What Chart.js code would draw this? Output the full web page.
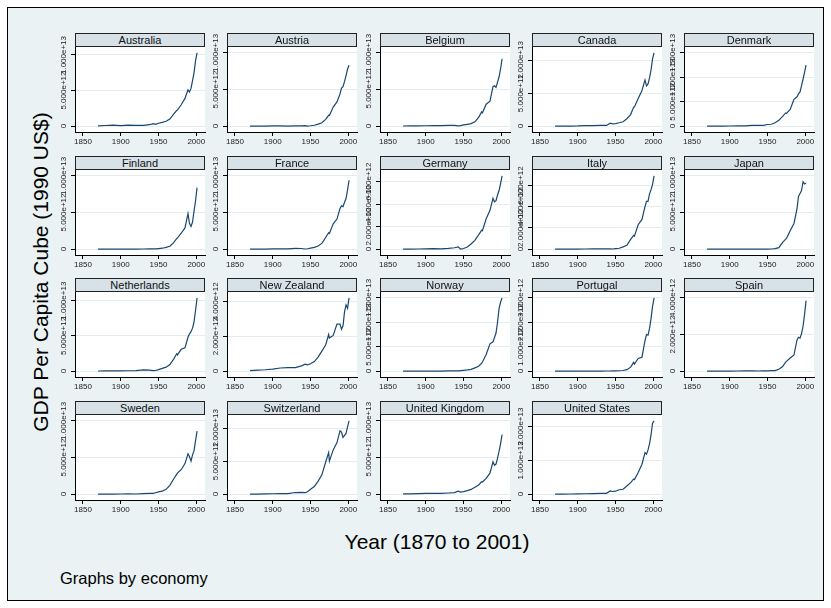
<!DOCTYPE html>
<html lang="en">
<head>
<meta charset="UTF-8">
<title>GDP Per Capita Cube by economy</title>
<script src="https://cdn.jsdelivr.net/npm/chart.js"></script>
<style>
  body { margin: 0; width: 831px; height: 608px; background: #fff; position: relative; overflow: hidden;
         font-family: "Liberation Sans", Arial, Helvetica, sans-serif; }
  #frame { position: absolute; left: 7px; top: 7px; width: 815px; height: 592px; border: 1px solid #000; background: #eaf2f3; }
  .strip { position: absolute; box-sizing: border-box; height: 14px; width: 130px; border: 1px solid #222;
           background: #d7e2e8; font-size: 11px; line-height: 12px; text-align: center; color: #111; z-index: 2; }
  .panel { position: absolute; z-index: 1; }
  .lbl { position: absolute; white-space: nowrap; color: #000; line-height: 1; }
</style>
</head>
<body>
<div id="frame"></div>
<div class="lbl" style="left:40px; top:272px; font-size:21px; transform: translate(-50%,-50%) rotate(-90deg);">GDP Per Capita Cube (1990 US$)</div>
<div class="lbl" style="left:437px; top:541px; font-size:21px; transform: translate(-50%,-50%);">Year (1870 to 2001)</div>
<div class="lbl" style="left:60px; top:578px; font-size:16.5px; transform: translate(0,-50%);">Graphs by economy</div>

<script>
// values are in units of 1e12 (1990 US$ cubed)
const years = [1870, 1880, 1890, 1900, 1910, 1920, 1930, 1938, 1943, 1946, 1950, 1955, 1960,
               1965, 1970, 1974, 1975, 1980, 1985, 1989, 1991, 1993, 1995, 1997, 1999, 2001];

const australia   = [0.04, 0.09, 0.14, 0.07, 0.14, 0.10, 0.10, 0.20, 0.36, 0.25, 0.41, 0.53, 0.68, 1.0, 1.7, 2.2, 2.25, 3.0, 3.9, 5.1, 4.8, 5.3, 6.4, 7.5, 9.2, 10.3];
const austria     = [0.007, 0.008, 0.014, 0.024, 0.036, 0.014, 0.047, 0.045, 0.064, 0.007, 0.051, 0.125, 0.28, 0.46, 0.93, 1.48, 1.44, 2.6, 3.3, 4.4, 5.2, 5.4, 6.1, 6.9, 7.8, 8.3];
const belgium     = [0.02, 0.027, 0.039, 0.052, 0.064, 0.059, 0.097, 0.091, 0.047, 0.08, 0.163, 0.25, 0.34, 0.59, 1.2, 1.95, 1.82, 3.0, 3.4, 5.4, 5.5, 5.3, 6.0, 6.7, 7.8, 9.2];
const canada      = [0.005, 0.006, 0.014, 0.025, 0.069, 0.064, 0.11, 0.11, 0.44, 0.34, 0.39, 0.51, 0.67, 1.12, 1.75, 2.9, 2.9, 4.2, 5.4, 7.0, 6.1, 6.4, 7.3, 8.5, 10.2, 11.1];
const denmark     = [0.008, 0.011, 0.016, 0.027, 0.051, 0.064, 0.15, 0.185, 0.157, 0.205, 0.335, 0.39, 0.68, 1.19, 2.0, 2.7, 2.6, 3.4, 5.5, 6.0, 6.6, 7.0, 8.3, 9.6, 11.0, 12.5];
const finland     = [0.0015, 0.0022, 0.0027, 0.0046, 0.0069, 0.0058, 0.019, 0.043, 0.047, 0.043, 0.077, 0.125, 0.24, 0.4, 0.88, 1.44, 1.52, 2.17, 2.9, 4.85, 3.5, 3.1, 3.7, 5.2, 6.6, 8.4];
const france      = [0.0066, 0.0093, 0.0138, 0.024, 0.027, 0.033, 0.091, 0.085, 0.02, 0.051, 0.146, 0.24, 0.43, 0.78, 1.59, 2.25, 2.15, 3.45, 4.1, 5.55, 5.9, 5.8, 6.4, 6.9, 8.1, 9.4];
const germany     = [0.0062, 0.008, 0.0138, 0.027, 0.038, 0.022, 0.063, 0.125, 0.2, 0.011, 0.058, 0.195, 0.46, 0.78, 1.27, 1.69, 1.64, 2.69, 3.44, 4.5, 4.2, 4.3, 4.8, 5.2, 5.8, 6.5];
const italy       = [0.0034, 0.0041, 0.0049, 0.0057, 0.012, 0.0176, 0.024, 0.036, 0.03, 0.014, 0.043, 0.085, 0.21, 0.36, 0.92, 1.3, 1.23, 2.3, 2.8, 4.0, 4.5, 4.5, 5.2, 5.6, 6.1, 6.9];
const japan       = [0.0004, 0.0006, 0.001, 0.0016, 0.0022, 0.0049, 0.0063, 0.0147, 0.022, 0.0027, 0.0071, 0.022, 0.063, 0.205, 0.92, 1.37, 1.44, 2.5, 3.5, 5.5, 7.2, 7.6, 8.0, 9.2, 8.9, 9.0];
const netherlands = [0.021, 0.027, 0.036, 0.04, 0.055, 0.074, 0.176, 0.145, 0.08, 0.091, 0.216, 0.39, 0.57, 0.94, 1.71, 2.46, 2.3, 3.1, 3.3, 4.8, 5.3, 5.6, 6.1, 7.0, 8.6, 10.4];
const newZealand  = [0.03, 0.06, 0.08, 0.12, 0.18, 0.2, 0.2, 0.3, 0.4, 0.36, 0.42, 0.55, 0.8, 1.15, 1.5, 2.1, 1.9, 2.05, 2.7, 2.7, 2.4, 2.6, 3.4, 3.8, 3.6, 4.2];
const norway      = [0.0025, 0.0034, 0.0049, 0.0066, 0.0093, 0.022, 0.051, 0.08, 0.047, 0.097, 0.163, 0.25, 0.37, 0.66, 1.01, 1.64, 1.86, 3.4, 5.6, 6.0, 6.9, 7.8, 10.0, 12.8, 14.1, 15.0];
const portugal    = [0.0009, 0.001, 0.0013, 0.0022, 0.0022, 0.0017, 0.0041, 0.0049, 0.0049, 0.0069, 0.0091, 0.0156, 0.026, 0.059, 0.164, 0.36, 0.29, 0.52, 0.57, 1.25, 1.5, 1.47, 1.75, 2.15, 2.65, 3.0];
const spain       = [0.0026, 0.0041, 0.0049, 0.0057, 0.0069, 0.0106, 0.0176, 0.008, 0.0106, 0.0106, 0.0138, 0.024, 0.029, 0.104, 0.25, 0.49, 0.53, 0.72, 0.88, 1.7, 1.85, 1.8, 2.05, 2.45, 3.1, 3.85];
const sweden      = [0.0046, 0.0058, 0.008, 0.0168, 0.0265, 0.022, 0.059, 0.091, 0.11, 0.195, 0.31, 0.4, 0.66, 1.19, 2.06, 2.7, 2.86, 3.33, 4.17, 5.5, 5.1, 4.5, 5.36, 5.93, 7.3, 8.6];
const switzerland = [0.0093, 0.0147, 0.032, 0.056, 0.081, 0.08, 0.244, 0.26, 0.216, 0.373, 0.75, 1.16, 1.93, 2.92, 4.83, 6.3, 5.0, 6.7, 7.8, 9.6, 9.4, 8.6, 8.9, 9.2, 10.2, 11.1];
const unitedKingdom = [0.032, 0.043, 0.064, 0.091, 0.097, 0.091, 0.157, 0.205, 0.40, 0.275, 0.334, 0.475, 0.646, 0.93, 1.25, 1.69, 1.66, 2.16, 2.86, 4.41, 3.94, 4.1, 4.91, 5.83, 6.86, 8.12];
const unitedStates  = [0.0146, 0.033, 0.039, 0.068, 0.122, 0.171, 0.24, 0.23, 0.95, 0.78, 0.874, 1.3, 1.45, 2.41, 3.4, 4.49, 4.33, 6.41, 8.87, 12.3, 11.85, 13.1, 14.9, 17.6, 21.0, 21.7];

const countries = ['Australia', 'Austria', 'Belgium', 'Canada', 'Denmark',
                   'Finland', 'France', 'Germany', 'Italy', 'Japan',
                   'Netherlands', 'New Zealand', 'Norway', 'Portugal', 'Spain',
                   'Sweden', 'Switzerland', 'United Kingdom', 'United States'];
const seriesList = [australia, austria, belgium, canada, denmark,
                    finland, france, germany, italy, japan,
                    netherlands, newZealand, norway, portugal, spain,
                    sweden, switzerland, unitedKingdom, unitedStates];

// y axis tick step and top tick, same units
const yStep    = [5, 5, 5, 5, 5,  5, 5, 2, 2, 5,  5, 2, 5, 1, 2,  5, 5, 5, 10];
const yTopTick = [10, 10, 10, 10, 15,  10, 10, 6, 6, 10,  10, 4, 15, 3, 4,  10, 10, 10, 20];
const xTicks = [1850, 1900, 1950, 2000];
const UNIT = 1e12;

const FONT = '"Liberation Sans", Arial, Helvetica, sans-serif';

// white plot region behind the line
const plotBg = {
  id: 'plotBg',
  beforeDraw(chart) {
    const a = chart.chartArea, ctx = chart.ctx;
    ctx.save();
    ctx.fillStyle = '#fff';
    ctx.fillRect(a.left, a.top, a.right - a.left, a.bottom - a.top);
    ctx.restore();
  }
};

// Stata style vertical tick labels (they overlap, as in the original)
const yLabels = {
  id: 'yLabels',
  afterDraw(chart) {
    const ctx = chart.ctx, ys = chart.scales.y, a = chart.chartArea;
    ctx.save();
    ctx.font = '8px ' + FONT;
    ctx.fillStyle = '#222';
    ctx.textAlign = 'center';
    ctx.textBaseline = 'middle';
    ys.ticks.forEach(t => {
      const py = ys.getPixelForValue(t.value);
      ctx.save();
      ctx.translate(a.left - 11, py);
      ctx.rotate(-Math.PI / 2);
      ctx.fillText(t.value === 0 ? '0' : t.value.toExponential(3), 0, 0);
      ctx.restore();
    });
    ctx.restore();
  }
};

const TOP_PAD = 24; // room above the plot for the tall tick labels

countries.forEach((name, i) => {
  const col = i % 5, row = Math.floor(i / 5);
  const left = Math.round(75 + col * 152.25);
  const top = Math.round(33 + row * 122.7);

  const cv = document.createElement('canvas');
  cv.className = 'panel';
  cv.width = 170; cv.height = 103 + TOP_PAD;
  cv.style.left = (left - 30) + 'px';
  cv.style.top = (top + 14 - TOP_PAD) + 'px';
  document.body.appendChild(cv);

  const strip = document.createElement('div');
  strip.className = 'strip';
  strip.style.left = left + 'px';
  strip.style.top = top + 'px';
  strip.textContent = name;
  document.body.appendChild(strip);

  const vals = seriesList[i];
  const step = yStep[i] * UNIT;
  const topTick = yTopTick[i] * UNIT;
  const range = Math.max(topTick, Math.max(...vals) * UNIT);
  const tickVals = [];
  for (let v = 0; v <= topTick + 1; v += step) tickVals.push(v);

  new Chart(cv, {
    type: 'line',
    data: {
      datasets: [{
        data: years.map((y, k) => ({ x: y, y: vals[k] * UNIT })),
        borderColor: '#1a476f',
        borderWidth: 1.2,
        pointRadius: 0,
        tension: 0
      }]
    },
    options: {
      responsive: false,
      animation: false,
      devicePixelRatio: 1,
      layout: { padding: { top: TOP_PAD, right: 10, left: 0, bottom: 0 } },
      plugins: { legend: { display: false }, tooltip: { enabled: false } },
      scales: {
        x: {
          type: 'linear',
          min: 1839.5,
          max: 2011.5,
          afterBuildTicks: s => { s.ticks = xTicks.map(v => ({ value: v })); },
          afterFit: s => { s.height = 18; s.paddingLeft = 0; s.paddingRight = 0; },
          ticks: { font: { size: 8, family: FONT }, color: '#222', padding: 1,
                   maxRotation: 0, autoSkip: false, callback: v => String(v) },
          grid: { drawOnChartArea: false, tickLength: 4, tickColor: '#000' },
          border: { color: '#000', width: 1 }
        },
        y: {
          type: 'linear',
          min: -0.08 * range,
          max: 1.08 * range,
          afterBuildTicks: s => { s.ticks = tickVals.map(v => ({ value: v })); },
          afterFit: s => { s.width = 30; s.paddingTop = 0; s.paddingBottom = 0; },
          ticks: { display: false },
          grid: { color: '#e4edf0', tickLength: 4, tickColor: '#000' },
          border: { color: '#000', width: 1 }
        }
      }
    },
    plugins: [plotBg, yLabels]
  });
});
</script>
</body>
</html>
